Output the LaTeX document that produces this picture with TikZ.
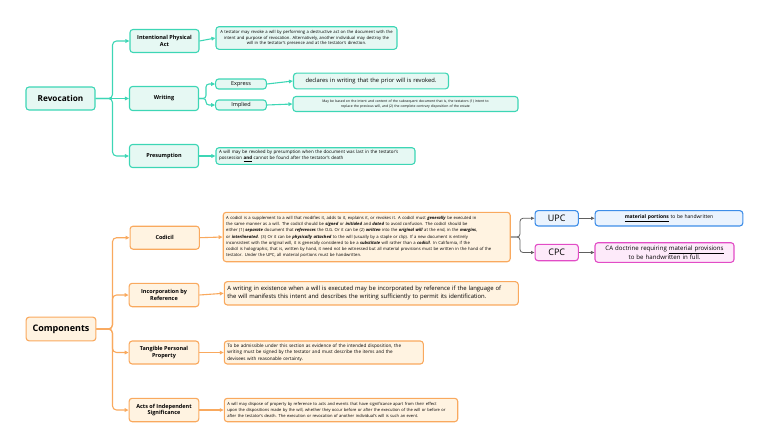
\documentclass[tikz,border=0pt]{standalone}
\usepackage{fontspec}
\setmainfont{Open Sans}
\usetikzlibrary{arrows.meta,calc}
\definecolor{tealB}{HTML}{3DD6B5}
\definecolor{tealF}{HTML}{E6F8F3}
\definecolor{oraB}{HTML}{F9A95E}
\definecolor{oraF}{HTML}{FFF3E1}
\definecolor{bluB}{HTML}{3D8DE8}
\definecolor{bluF}{HTML}{EAF3FE}
\definecolor{magB}{HTML}{E24CC6}
\definecolor{magF}{HTML}{FDEAFA}
\definecolor{grayC}{HTML}{606060}
\newcommand{\fsz}[2]{\fontsize{#1}{#2}\selectfont}
\newcommand{\bi}[1]{\textbf{\textit{#1}}}
\begin{document}
\begin{tikzpicture}[x=1pt,y=-1pt,
  box/.style={rounded corners=3pt, line width=1.1pt, inner xsep=3pt, inner ysep=1pt, align=center, text=black},
  tbox/.style={box, draw=tealB, fill=tealF},
  obox/.style={box, draw=oraB, fill=oraF},
  bbox/.style={box, draw=bluB, fill=bluF},
  mbox/.style={box, draw=magB, fill=magF},
  tconn/.style={draw=tealB, line width=1.1pt, -{Triangle[length=4pt,width=3.6pt]}},
  oconn/.style={draw=oraB, line width=1.1pt, -{Triangle[length=4pt,width=3.6pt]}},
  gconn/.style={draw=grayC, line width=0.8pt, -{Triangle[length=3.5pt,width=3pt]}},
  lab/.style={font=\fsz{5.5}{6.5}\bfseries}
]
\useasboundingbox (0,0) rectangle (768,447);

% ---------------- Revocation ----------------
\node[tbox, minimum width=69pt, minimum height=23pt, font=\fsz{8.2}{9}\bfseries] (rev) at (60.5,98.5) {Revocation};

\node[tbox, lab, minimum width=69pt, minimum height=23pt] (ipa) at (164.5,41) {Intentional Physical\\Act};
\node[tbox, text width=175pt, minimum height=22.6pt, font=\fsz{4.2}{5.6}] (ipat) at (306.5,38)
 {A testator may revoke a will by performing a destructive act on the document with the\\intent and purpose of revocation. Alternatively, another individual may destroy the\\will in the testator's presence and at the testator's direction.};

\node[tbox, lab, minimum width=69pt, minimum height=24pt] (wri) at (164,98.5) {Writing};
\node[tbox, minimum width=50.7pt, minimum height=10pt, font=\fsz{5.5}{6}] (exp) at (241,84) {Express};
\node[tbox, minimum width=50.7pt, minimum height=10pt, font=\fsz{5.5}{6}] (imp) at (241,105) {Implied};
\node[tbox, text width=149pt, minimum height=15.7pt, font=\fsz{5.8}{6.6}] (expt) at (371,81) {declares in writing that the prior will is revoked.};
\node[tbox, text width=219pt, minimum height=15pt, font=\fsz{3.4}{5}] (impt) at (405.5,104)
 {May be based on the intent and content of the subsequent document that is, the testators (1) intent to\\replace the previous will, and (2) the complete contrary disposition of the estate};

\node[tbox, lab, minimum width=69pt, minimum height=23pt] (pres) at (164,156) {Presumption};
\node[tbox, text width=193pt, minimum height=16.6pt, align=left, font=\fsz{4.5}{5.6}] (prest) at (315.5,156)
 {A will may be revoked by presumption when the document was last in the testator's\\possession \underline{\textbf{and}} cannot be found after the testator's death};

\coordinate (rj) at (112.5,98.5);
\draw[tconn] (rev.east) -- (wri.west);
\draw[tconn, rounded corners=4pt] (rev.east) -- (rj) |- (ipa.west);
\draw[tconn, rounded corners=4pt] (rev.east) -- (rj) |- (pres.west);
\draw[tconn] (ipa.east) -- (ipat.west);
\draw[tconn] (pres.east) -- (prest.west);
\coordinate (wj) at (206,98.5);
\draw[tconn, rounded corners=3pt] (wri.east) -- (wj) |- (exp.west);
\draw[tconn, rounded corners=3pt] (wri.east) -- (wj) |- (imp.west);
\draw[tconn] (exp.east) -- (expt.west);
\draw[tconn] (imp.east) -- (impt.west);

% ---------------- Components ----------------
\node[obox, minimum width=69.7pt, minimum height=23.7pt, font=\fsz{9}{10}\bfseries] (comp) at (61,329) {Components};

\node[obox, lab, minimum width=69.3pt, minimum height=23pt] (cod) at (164.7,237.7) {Codicil};
\node[obox, text width=281pt, minimum height=49.4pt, align=left, font=\fsz{4.2}{6.2}] (codt) at (366.7,237)
 {A codicil is a supplement to a will that modifies it, adds to it, explains it, or revokes it. A codicil must \bi{generally} be executed in\\
 the same manner as a will. The codicil should be \bi{signed} or \bi{initialed} and \bi{dated} to avoid confusion. The codicil should be\\
 either (1) \bi{separate} document that \bi{references} the O.G. Or it can be (2) \bi{written} into the \bi{original will} at the end, in the \bi{margins},\\
 or \bi{interlineated}. (3) Or it can be \bi{physically attached} to the will (usually by a staple or clip). If a new document is entirely\\
 inconsistent with the original will, it is generally considered to be a \bi{substitute} will rather than a \bi{codicil}. In California, if the\\
 codicil is holographic, that is, written by hand, it need not be witnessed but all material provisions must be written in the hand of the\\
 testator. Under the UPC, all material portions must be handwritten.};

\node[bbox, minimum width=43.3pt, minimum height=15.3pt, font=\fsz{9}{10}] (upc) at (556.7,218.3) {UPC};
\node[mbox, minimum width=43.3pt, minimum height=16.4pt, font=\fsz{9}{10}] (cpc) at (556.7,252.5) {CPC};
\node[bbox, text width=141.7pt, minimum height=15.3pt, font=\fsz{5}{6}] (upct) at (669,218.3) {\underline{\textbf{material portions}} to be handwritten};
\node[mbox, text width=133pt, minimum height=19.6pt, font=\fsz{6.1}{7.2}] (cpct) at (664.5,252.5) {CA doctrine requiring \underline{material provisions}\\to be handwritten in full.};

\node[obox, lab, minimum width=69.7pt, minimum height=23.4pt] (inc) at (164,295) {Incorporation by\\Reference};
\node[obox, text width=288pt, minimum height=23.3pt, align=left, font=\fsz{5.9}{7.8}] (inct) at (371.3,293.3)
 {A writing in existence when a will is executed may be incorporated by reference if the language of\\the will manifests this intent and describes the writing sufficiently to permit its identification.};

\node[obox, lab, minimum width=69.7pt, minimum height=23pt] (tan) at (164,352.5) {Tangible Personal\\Property};
\node[obox, text width=193pt, minimum height=23pt, align=left, font=\fsz{4.6}{6.4}] (tant) at (323.8,352.5)
 {To be admissible under this section as evidence of the intended disposition, the\\writing must be signed by the testator and must describe the items and the\\devisees with reasonable certainty.};

\node[obox, lab, minimum width=69.7pt, minimum height=23.4pt] (act) at (164,410) {Acts of Independent\\Significance};
\node[obox, text width=227.4pt, minimum height=23.4pt, align=left, font=\fsz{4.1}{6}] (actt) at (341,410)
 {A will may dispose of property by reference to acts and events that have significance apart from their effect\\upon the dispositions made by the will, whether they occur before or after the execution of the will or before or\\after the testator's death. The execution or revocation of another individual's will is such an event.};

\coordinate (cj) at (112.5,329);
\draw[oconn, rounded corners=4pt] (comp.east) -- (cj) |- (cod.west);
\draw[oconn, rounded corners=4pt] (comp.east) -- (cj) |- (inc.west);
\draw[oconn, rounded corners=4pt] (comp.east) -- (cj) |- (tan.west);
\draw[oconn, rounded corners=4pt] (comp.east) -- (cj) |- (act.west);
\draw[oconn] (cod.east) -- (codt.west);
\draw[oconn] (inc.east) -- (inct.west);
\draw[oconn] (tan.east) -- (tant.west);
\draw[oconn] (act.east) -- (actt.west);

\coordinate (uj) at (520,237);
\draw[gconn, rounded corners=3pt] (codt.east) -- (uj) |- (upc.west);
\draw[gconn, rounded corners=3pt] (codt.east) -- (uj) |- (cpc.west);
\draw[gconn] (upc.east) -- (upct.west);
\draw[gconn] (cpc.east) -- (cpct.west);
\end{tikzpicture}
\end{document}
